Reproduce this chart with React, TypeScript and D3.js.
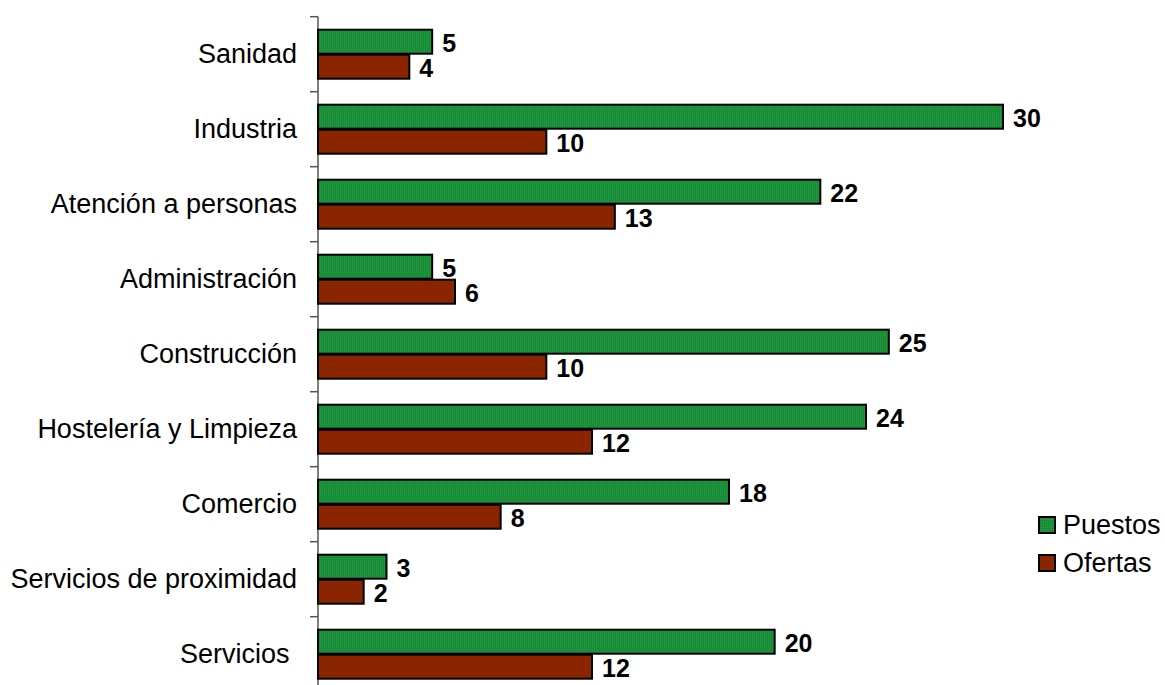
import React from "react";
import * as d3 from "d3";

const categories = [
  "Sanidad",
  "Industria",
  "Atención a personas",
  "Administración",
  "Construcción",
  "Hostelería y Limpieza",
  "Comercio",
  "Servicios de proximidad",
  "Servicios ",
];
const puestos = [5, 30, 22, 5, 25, 24, 18, 3, 20];
const ofertas = [4, 10, 13, 6, 10, 12, 8, 2, 12];
const seriesNames = ["Puestos", "Ofertas"];
const seriesColors = ["#1a8f3a", "#8b2500"];

const W = 1165;
const H = 685;
const axisX = 318;
const topY = 16.7;
const band = 75;

export default function App() {
  const x = d3.scaleLinear().domain([0, 30]).range([axisX, 1003]);
  const y = d3
    .scaleBand<string>()
    .domain(categories)
    .range([topY, topY + band * categories.length])
    .paddingInner(0)
    .paddingOuter(0);
  const yInner = d3
    .scaleBand<string>()
    .domain(seriesNames)
    .range([0, y.bandwidth()])
    .paddingInner(0)
    .paddingOuter(0.5);
  const values = [puestos, ofertas];
  const font = "'Liberation Sans', Arial, sans-serif";
  const ticks = d3.range(categories.length + 1).map((i) => topY + i * band);

  return (
    <svg
      width={W}
      height={H}
      style={{ position: "absolute", left: 0, top: 0, background: "#fff" }}
      fontFamily={font}
    >
      <defs>
        <pattern id="pg" width="2" height="2" patternUnits="userSpaceOnUse">
          <rect width="2" height="2" fill="#1a8f3a" />
          <rect width="1" height="1" fill="#239a43" />
          <rect x="1" y="1" width="1" height="1" fill="#168633" />
        </pattern>
      </defs>
      {/* axis */}
      <line x1={axisX} x2={axisX} y1={topY} y2={H + 10} stroke="#555" strokeWidth={1.5} />
      {ticks.map((t, i) => (
        <line key={i} x1={axisX - 8} x2={axisX} y1={t} y2={t} stroke="#555" strokeWidth={1.5} />
      ))}
      {categories.map((c, ci) => (
        <g key={c} transform={`translate(0,${y(c)})`}>
          <text
            x={297}
            y={y.bandwidth() / 2}
            textAnchor="end"
            dominantBaseline="central"
            fontSize={27}
            fill="#000"
            style={{ whiteSpace: "pre" }}
          >
            {c}
          </text>
          {seriesNames.map((s, si) => {
            const v = values[si][ci];
            const yy = yInner(s)!;
            const h = yInner.bandwidth();
            return (
              <g key={s}>
                <rect
                  x={axisX}
                  y={yy + 0.5}
                  width={x(v) - axisX}
                  height={h - 1}
                  fill={si === 0 ? "url(#pg)" : seriesColors[1]}
                  stroke="#000"
                  strokeWidth={2}
                />
                <text
                  x={x(v) + 10}
                  y={yy + h / 2 + 1}
                  dominantBaseline="central"
                  fontSize={25}
                  fontWeight="bold"
                  fill="#000"
                >
                  {v}
                </text>
              </g>
            );
          })}
        </g>
      ))}
      {/* legend */}
      {seriesNames.map((s, si) => (
        <g key={s} transform={`translate(1039,${517 + si * 38})`}>
          <rect
            x={0}
            y={0}
            width={16}
            height={16}
            fill={si === 0 ? "url(#pg)" : seriesColors[1]}
            stroke="#000"
            strokeWidth={2}
          />
          <text x={24} y={8} dominantBaseline="central" fontSize={27} fill="#000">
            {s}
          </text>
        </g>
      ))}
    </svg>
  );
}
